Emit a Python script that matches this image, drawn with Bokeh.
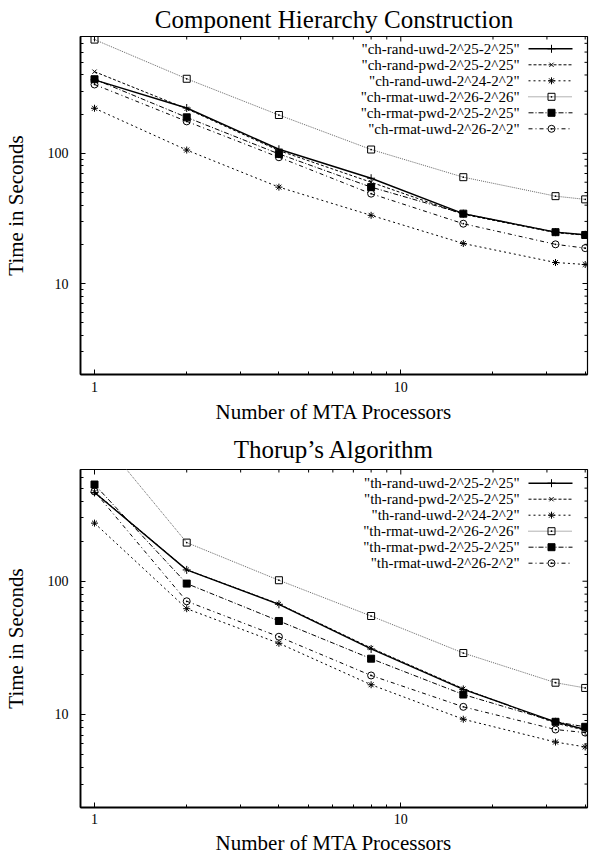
import math
from bokeh.plotting import figure
from bokeh.layouts import column
from bokeh.models import Range1d, FixedTicker, PrintfTickFormatter
from bokeh.core.properties import value
from bokeh.embed import file_html
from bokeh.resources import INLINE

# ---------------- data ----------------
procs = [1, 2, 4, 8, 16, 32, 40]

ch_labels = ['"ch-rand-uwd-2^25-2^25"', '"ch-rand-pwd-2^25-2^25"', '"ch-rand-uwd-2^24-2^2"',
             '"ch-rmat-uwd-2^26-2^26"', '"ch-rmat-pwd-2^25-2^25"', '"ch-rmat-uwd-2^26-2^2"']
ch_rand_uwd_25 = [367, 223, 107.5, 64.4, 34.4, 24.8, 23.7]
ch_rand_pwd_25 = [424, 220, 105, 60, 34.0, 24.6, 23.5]
ch_rand_uwd_24 = [222, 106, 55, 33.4, 20.3, 14.5, 14.0]
ch_rmat_uwd_26 = [748, 374, 197, 107, 65.6, 46.9, 44.3]
ch_rmat_pwd_25 = [371, 189, 99, 55, 34.4, 24.8, 23.6]
ch_rmat_uwd_26_2 = [338, 176, 93.3, 49, 28.8, 20.0, 18.7]

th_labels = ['"th-rand-uwd-2^25-2^25"', '"th-rand-pwd-2^25-2^25"', '"th-rand-uwd-2^24-2^2"',
             '"th-rmat-uwd-2^26-2^26"', '"th-rmat-pwd-2^25-2^25"', '"th-rmat-uwd-2^26-2^2"']
th_rand_uwd_25 = [464, 121.6, 67.1, 31.0, 15.4, 8.8, 7.7]
th_rand_pwd_25 = [468, 122, 67.5, 31.5, 15.6, 8.6, 7.6]
th_rand_uwd_24 = [273, 62.2, 34.2, 16.7, 9.2, 6.2, 5.7]
th_rmat_uwd_26 = [1350, 195, 101.7, 54.8, 28.9, 17.3, 15.8]
th_rmat_pwd_25 = [532, 96, 50.3, 26.2, 14.1, 8.8, 8.07]
th_rmat_uwd_26_2 = [472, 70.7, 38.3, 19.6, 11.4, 7.7, 7.3]

x_major = [1, 10]
x_minor = [2, 3, 4, 5, 6, 7, 8, 9, 20, 30, 40]
y_major = [10, 100]
y_minor = [2, 3, 4, 5, 6, 7, 8, 9, 20, 30, 40, 50, 60, 70, 80, 90, 200, 300, 400, 500, 600, 700]

# ---------------- styles ----------------
FONT = "Liberation Serif"
styles = [
    dict(dash="solid", width=1.4, color="black", marker="cross", size=8, fill=None),
    dict(dash="3 2", width=1.0, color="black", marker="x", size=6, fill=None),
    dict(dash="2 3", width=1.0, color="black", marker="asterisk", size=7, fill=None),
    dict(dash="1 1", width=1.0, color="#666666", marker="square_dot", size=7, fill=None),
    dict(dash="5 2 1 2", width=1.0, color="black", marker="square", size=7, fill="black"),
    dict(dash="4 3 1 3", width=1.0, color="black", marker="circle_dot", size=7, fill=None),
]

W = 589
BL, BR = 80, 2
XR = (0.9, 40.7)


def make_fig(title, height, btop, bbot, yr, series, labels, leg_top, lab_standoff, axl_standoff, t_standoff):
    p = figure(width=W, height=height, x_axis_type="log", y_axis_type="log",
               x_range=Range1d(*XR), y_range=Range1d(*yr),
               output_backend="svg", toolbar_location=None,
               min_border_left=BL, min_border_right=BR,
               min_border_top=btop, min_border_bottom=bbot)
    p.title.text = title
    p.title.text_font = FONT
    p.title.text_font_size = "25px"
    p.title.text_font_style = "normal"
    p.title.text_color = "black"
    p.title.align = "center"
    p.title.standoff = t_standoff
    p.xgrid.visible = False
    p.ygrid.visible = False
    p.outline_line_color = "black"
    p.outline_line_width = 1.2
    p.background_fill_color = "white"
    p.border_fill_color = "white"

    for ax, maj, mnr in ((p.xaxis[0], x_major, x_minor), (p.yaxis[0], y_major, y_minor)):
        ax.ticker = FixedTicker(ticks=maj, minor_ticks=mnr)
        ax.formatter = PrintfTickFormatter(format="%d")
        ax.major_label_text_font = FONT
        ax.major_label_text_font_size = "14px"
        ax.major_label_text_color = "black"
        ax.axis_label_text_font = FONT
        ax.axis_label_text_font_size = "21px"
        ax.axis_label_text_font_style = "normal"
        ax.axis_label_text_color = "black"
        ax.major_tick_in = 5
        ax.major_tick_out = 0
        ax.minor_tick_in = 3
        ax.minor_tick_out = 0
        ax.axis_line_width = 1.8
        ax.axis_line_color = "black"
        ax.major_tick_line_color = "black"
        ax.minor_tick_line_color = "black"
    p.xaxis[0].axis_label = "Number of MTA Processors"
    p.yaxis[0].axis_label = "Time in Seconds"
    p.xaxis[0].major_label_standoff = lab_standoff
    p.xaxis[0].axis_label_standoff = axl_standoff
    p.yaxis[0].major_label_standoff = 12
    p.yaxis[0].axis_label_standoff = 17

    for ys, st in zip(series, styles):
        p.line(procs, ys, line_color=st["color"], line_width=st["width"], line_dash=st["dash"])
        p.scatter(procs, ys, marker=st["marker"], size=st["size"], line_color="black",
                  line_width=1.0, fill_color=st["fill"] if st["fill"] else None)

    # helpers: frame pixel offsets -> data coordinates
    fw = W - BL - BR
    fh = height - btop - bbot
    lx0, lx1 = math.log10(XR[0]), math.log10(XR[1])
    ly0, ly1 = math.log10(yr[0]), math.log10(yr[1])

    def fx(px):
        return 10 ** (lx0 + px / fw * (lx1 - lx0))

    def fy(py):
        return 10 ** (ly1 - py / fh * (ly1 - ly0))

    # mirrored ticks on the right and top edges (inward)
    for ticks, ln in ((y_major, 5), (y_minor, 3)):
        tk = [t for t in ticks if yr[0] < t < yr[1]]
        p.segment(x0=[XR[1]] * len(tk), y0=tk, x1=[fx(fw - ln)] * len(tk), y1=tk,
                  line_color="black", line_width=1)
    for ticks, ln in ((x_major, 5), (x_minor, 3)):
        tk = [t for t in ticks if XR[0] < t < XR[1]]
        p.segment(x0=tk, y0=[yr[1]] * len(tk), x1=tk, y1=[fy(ln)] * len(tk),
                  line_color="black", line_width=1)

    # legend (gnuplot style: right-aligned label, sample to its right)
    for i, (lab, st) in enumerate(zip(labels, styles)):
        yy = fy(leg_top + 16 * i)
        p.text(x=[fx(439)], y=[yy], text=[lab], text_align="right", text_baseline="middle",
               text_font=value(FONT), text_font_size="15px", text_color="black")
        p.line([fx(448), fx(492)], [yy, yy], line_color=st["color"], line_width=st["width"],
               line_dash=st["dash"])
        p.scatter([fx(471)], [yy], marker=st["marker"], size=st["size"], line_color="black",
                  line_width=1.0, fill_color=st["fill"] if st["fill"] else None)
    return p


p1 = make_fig("Component Hierarchy Construction", 426, 36, 52, (2, 790),
              [ch_rand_uwd_25, ch_rand_pwd_25, ch_rand_uwd_24, ch_rmat_uwd_26, ch_rmat_pwd_25, ch_rmat_uwd_26_2],
              ch_labels, 12.3, 7, 5, 7)
p2 = make_fig("Thorup\u2019s Algorithm", 431, 43, 50, (2, 690),
              [th_rand_uwd_25, th_rand_pwd_25, th_rand_uwd_24, th_rmat_uwd_26, th_rmat_pwd_25, th_rmat_uwd_26_2],
              th_labels, 13.7, 6, 4, 14)

layout = column(p1, p2, spacing=0)
open("out.html", "w").write(file_html(layout, INLINE))
